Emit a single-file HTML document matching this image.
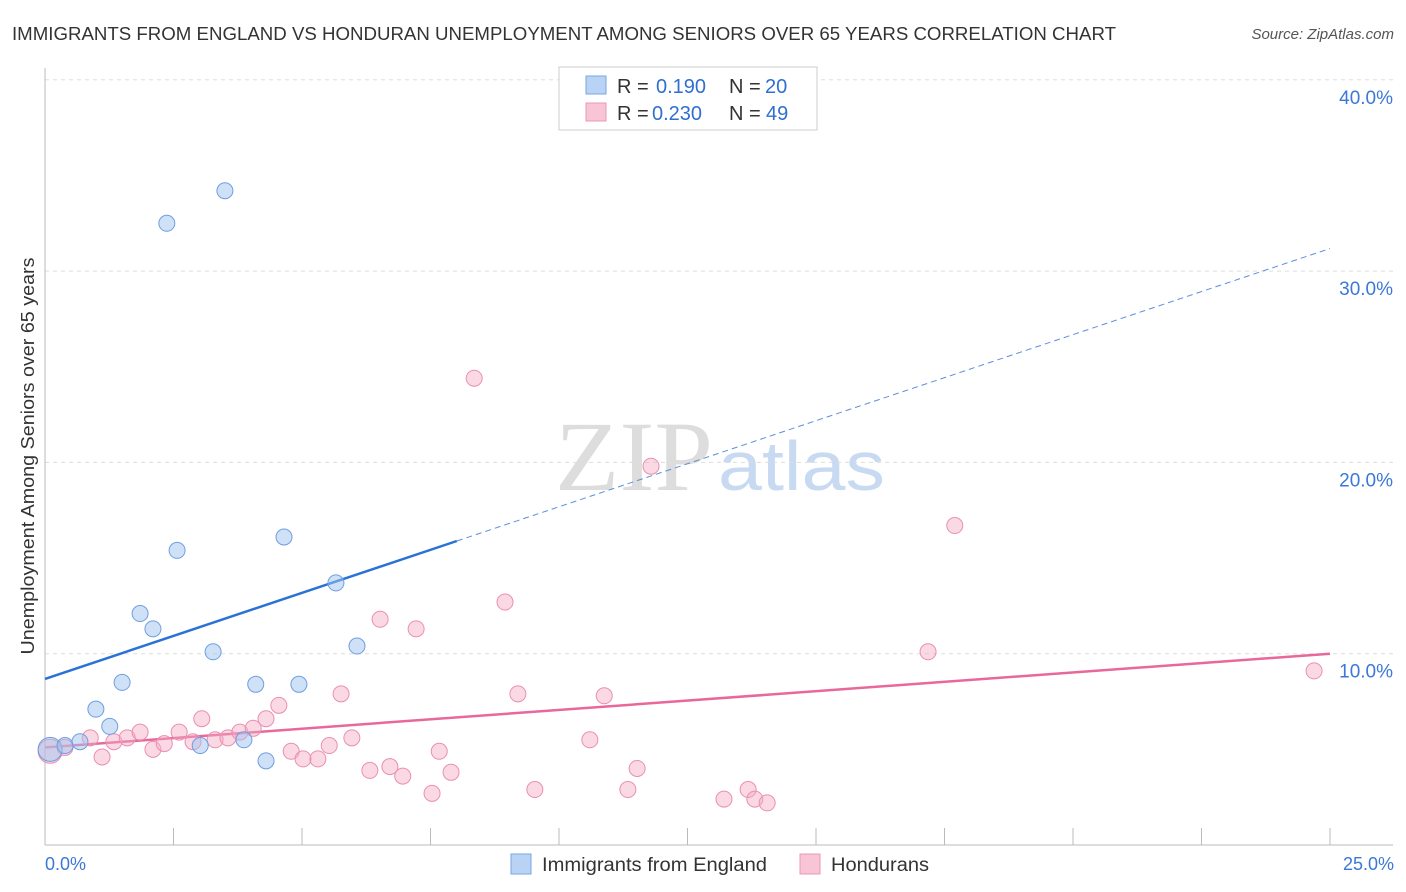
<!DOCTYPE html>
<html><head><meta charset="utf-8"><style>
body{margin:0;background:#fff;font-family:"Liberation Sans",sans-serif}
svg{display:block}
</style></head><body>
<svg id="chart" width="1406" height="892">
<text x="12" y="40" font-size="18" fill="#333" textLength="1104" lengthAdjust="spacingAndGlyphs">IMMIGRANTS FROM ENGLAND VS HONDURAN UNEMPLOYMENT AMONG SENIORS OVER 65 YEARS CORRELATION CHART</text>
<text x="1394" y="39" font-size="15" fill="#555" font-style="italic" text-anchor="end">Source: ZipAtlas.com</text>
<text x="555" y="490" font-size="100" fill="#ddd" font-family="Liberation Serif,serif" textLength="158" lengthAdjust="spacingAndGlyphs">ZIP</text>
<text x="718" y="490" font-size="70" fill="#c8daf2" textLength="167" lengthAdjust="spacingAndGlyphs">atlas</text>
<g id="grid"></g><g id="axes"></g><g id="lines"></g><g id="pts"></g>
<g>
<rect x="559" y="67" width="258" height="63" fill="#fff" stroke="#ccc"/>
<rect x="586" y="76" width="20" height="18" fill="#b9d3f5" stroke="#7aa6e3"/>
<rect x="586" y="103" width="20" height="18" fill="#f8c5d6" stroke="#ec97b5"/>
<text x="617" y="93" font-size="20" fill="#333">R =</text><text x="656" y="93" font-size="20" fill="#2f6fd0">0.190</text>
<text x="729" y="93" font-size="20" fill="#333">N =</text><text x="765" y="93" font-size="20" fill="#2f6fd0">20</text>
<text x="617" y="120" font-size="20" fill="#333">R =</text><text x="652" y="120" font-size="20" fill="#2f6fd0">0.230</text>
<text x="729" y="120" font-size="20" fill="#333">N =</text><text x="766" y="120" font-size="20" fill="#2f6fd0">49</text>
</g>
<g>
<rect x="511" y="854" width="20" height="20" fill="#b9d3f5" stroke="#7aa6e3"/>
<text x="542" y="871" font-size="19" fill="#333" textLength="225" lengthAdjust="spacingAndGlyphs">Immigrants from England</text>
<rect x="800" y="854" width="20" height="20" fill="#f8c5d6" stroke="#ec97b5"/>
<text x="831" y="871" font-size="19" fill="#333" textLength="98" lengthAdjust="spacingAndGlyphs">Hondurans</text>
</g>
<text x="45" y="870" font-size="18" fill="#3b78d8">0.0%</text>
<text x="1394" y="870" font-size="18" fill="#3b78d8" text-anchor="end">25.0%</text>
<text transform="translate(34,456) rotate(-90)" font-size="18" fill="#333" text-anchor="middle" textLength="397" lengthAdjust="spacingAndGlyphs">Unemployment Among Seniors over 65 years</text>
</svg>
<script>
const yTicks=[10,20,30,40];
const yTickLabels=["10.0%","20.0%","30.0%","40.0%"];
const englandX=[0.1,0.39,0.68,0.99,1.26,1.5,1.85,2.1,2.37,2.57,3.02,3.27,3.5,3.87,4.1,4.3,4.65,4.94,5.66,6.07];
const englandY=[5.0,5.2,5.4,7.1,6.2,8.5,12.1,11.3,32.5,15.4,5.2,10.1,34.2,5.5,8.4,4.4,16.1,8.4,13.7,10.4];
const hondX=[0.1,0.39,0.88,1.11,1.34,1.6,1.85,2.1,2.32,2.61,2.88,3.05,3.31,3.56,3.79,4.05,4.3,4.55,4.79,5.02,5.31,5.53,5.76,5.97,6.32,6.52,6.71,6.96,7.22,7.53,7.67,7.9,8.35,8.95,9.2,9.53,10.6,10.88,11.34,11.52,11.79,13.21,13.68,13.81,14.05,17.18,17.7,24.69];
const hondY=[4.9,5.1,5.6,4.6,5.4,5.6,5.9,5.0,5.3,5.9,5.4,6.6,5.5,5.6,5.9,6.1,6.6,7.3,4.9,4.5,4.5,5.2,7.9,5.6,3.9,11.8,4.1,3.6,11.3,2.7,4.9,3.8,24.4,12.7,7.9,2.9,5.5,7.8,2.9,4.0,19.8,2.4,2.9,2.4,2.2,10.1,16.7,9.1];
const englandTrend=[8.68,0.9];
const hondTrend=[5.1,0.196];
const NS="http://www.w3.org/2000/svg";
const X=v=>45+v*51.4, Y=v=>845-v*19.13;
function mk(p,t,a){const e=document.createElementNS(NS,t);for(const k in a)e.setAttribute(k,a[k]);p.appendChild(e);return e;}
const grid=document.getElementById('grid'),axes=document.getElementById('axes'),lines=document.getElementById('lines'),pts=document.getElementById('pts');
yTicks.forEach((t,i)=>{
 const l=mk(grid,'line',{x1:45,x2:1393,y1:Y(t),y2:Y(t),stroke:'#ddd','stroke-dasharray':'4,4'});
 
 
 const tx=mk(grid,'text',{x:1393,y:Y(t)+24,'font-size':19,fill:'#3b78d8','text-anchor':'end'});
 tx.textContent=yTickLabels[i];
 
 
});
const ax=mk(axes,'line',{x1:45,x2:1393,y1:845,y2:845,stroke:'#bbb'});


const ay=mk(axes,'line',{x1:45,x2:45,y1:68,y2:845,stroke:'#bbb'});


for(let i=0;i<=10;i++){const v=i*2.5;const t=mk(axes,'line',{x1:X(v),x2:X(v),y1:828,y2:845,stroke:'#bbb'});
 
 }
const maxE=Math.max(...englandX);
let l1=mk(lines,'line',{x1:X(0),y1:Y(englandTrend[0]),x2:X(maxE*1.32),y2:Y(englandTrend[0]+englandTrend[1]*maxE*1.32),stroke:'#2a72d5','stroke-width':2.5});


let l2=mk(lines,'line',{x1:X(maxE*1.32),y1:Y(englandTrend[0]+englandTrend[1]*maxE*1.32),x2:X(25),y2:Y(englandTrend[0]+englandTrend[1]*25),stroke:'#5b8fdc','stroke-width':1,'stroke-dasharray':'6,4'});


let l3=mk(lines,'line',{x1:X(0),y1:Y(hondTrend[0]),x2:X(25),y2:Y(hondTrend[0]+hondTrend[1]*25),stroke:'#e8689a','stroke-width':2.5});


hondX.forEach((x,i)=>{const c=mk(pts,'circle',{cx:X(x),cy:Y(hondY[i]),r:i==0?12:8,fill:'rgba(245,170,196,0.45)',stroke:'#ea8fb0','stroke-width':1});
 
 });
englandX.forEach((x,i)=>{const c=mk(pts,'circle',{cx:X(x),cy:Y(englandY[i]),r:i==0?12:8,fill:'rgba(160,196,240,0.5)',stroke:'#6f9ee0','stroke-width':1});
 
 });
</script>
</body></html>
